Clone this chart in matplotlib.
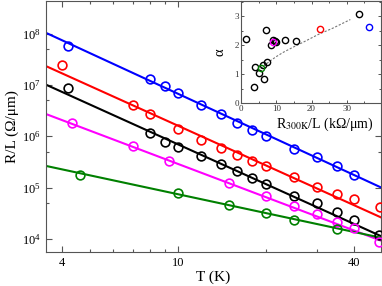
import matplotlib
matplotlib.use("Agg")
import matplotlib.pyplot as plt
from matplotlib.ticker import FixedLocator, NullFormatter, LogLocator, MultipleLocator, FixedFormatter

plt.rcParams['font.family'] = ['Liberation Serif', 'DejaVu Serif']
plt.rcParams['mathtext.fontset'] = 'stix'

# ---- main panel data ----
T_blue = [4.2, 8, 9, 10, 12, 14, 16, 18, 20, 25, 30, 35, 40]
R_blue = [5.67e7, 1.28e7, 9.48e6, 6.84e6, 4.0e6, 2.67e6, 1.81e6, 1.35e6, 1.01e6, 5.77e5, 3.96e5, 2.65e5, 1.75e5]

T_red = [4.0, 7, 8, 10, 12, 14, 16, 18, 20, 25, 30, 35, 40, 49.3]
R_red = [2.47e7, 4.05e6, 2.71e6, 1.37e6, 8.36e5, 5.93e5, 4.27e5, 3.31e5, 2.61e5, 1.58e5, 1.04e5, 7.48e4, 5.9e4, 4.13e4]

T_black = [4.2, 8, 9, 10, 12, 14, 16, 18, 20, 25, 30, 35, 40, 49]
R_black = [8.83e6, 1.15e6, 7.89e5, 6.2e5, 4.18e5, 2.86e5, 2.09e5, 1.55e5, 1.17e5, 6.94e4, 4.93e4, 3.39e4, 2.34e4, 1.18e4]

T_mag = [4.33, 7, 9.3, 15, 20, 25, 30, 35, 40, 49]
R_mag = [1.85e6, 6.4e5, 3.3e5, 1.21e5, 6.93e4, 4.37e4, 3.02e4, 2.11e4, 1.64e4, 8.87e3]

T_green = [4.6, 10, 15, 20, 25, 35]
R_green = [1.8e5, 7.93e4, 4.51e4, 3.27e4, 2.34e4, 1.54e4]

# power-law fit lines (end points)
fit_T = [3.53, 49.7]
fit_blue = [1.03e8, 1.01e5]
fit_red = [2.32e7, 2.64e4]
fit_black = [1.01e7, 1.14e4]
fit_mag = [2.71e6, 9.3e3]
fit_green = [2.65e5, 1.06e4]

# ---- inset data ----
r_black = [1.4, 7.0, 3.9, 3.7, 5.2, 6.3, 7.3, 6.4, 8.6, 9.2, 9.7, 9.9, 12.6, 15.6, 33.4]
a_black = [2.2, 2.52, 1.24, 0.56, 1.05, 1.31, 1.40, 0.82, 2.0, 2.17, 2.15, 2.1, 2.16, 2.14, 3.08]
r_green, a_green = [5.7], [1.2]
r_mag, a_mag = [9.0], [2.11]
r_red, a_red = [22.3], [2.54]
r_blue, a_blue = [36.4], [2.61]
trend_r = [4.8, 6, 7, 8, 10, 12, 15, 18, 22, 26, 31]
trend_a = [1.1, 1.23, 1.33, 1.43, 1.60, 1.75, 1.94, 2.12, 2.37, 2.58, 2.88]

spine_c = '#555555'
fig = plt.figure(figsize=(3.82, 2.86), dpi=100)
ax = fig.add_axes([0.1204, 0.1189, 0.877, 0.879])
ax.set_xscale('log')
ax.set_yscale('log')

series = [
    (T_blue, R_blue, fit_blue, '#0000ff'),
    (T_red, R_red, fit_red, '#ff0000'),
    (T_black, R_black, fit_black, '#000000'),
    (T_mag, R_mag, fit_mag, '#ff00ff'),
    (T_green, R_green, fit_green, '#008000'),
]
for T, R, fit, c in series:
    ax.plot(fit_T, fit, color=c, lw=1.5, zorder=2)
    ax.plot(T, R, 'o', mfc='none', mec=c, ms=6.3, mew=1.2, zorder=3, clip_on=True)

ax.set_xlim(3.53, 49.7)
ax.set_ylim(5.6e3, 4.37e8)
ax.xaxis.set_major_locator(FixedLocator([4, 10, 40]))
ax.xaxis.set_major_formatter(FixedFormatter(['4', '10', '40']))
ax.xaxis.set_minor_locator(FixedLocator([5, 6, 7, 8, 9, 20, 30]))
ax.xaxis.set_minor_formatter(NullFormatter())
ax.yaxis.set_major_locator(LogLocator(base=10, numticks=10))
ax.yaxis.set_minor_locator(LogLocator(base=10, subs=[5], numticks=10))
ax.yaxis.set_minor_formatter(NullFormatter())
ax.tick_params(which='both', direction='in', top=True, right=True, colors=spine_c, labelcolor='black', labelsize=9)
ax.tick_params(which='major', length=4, width=0.8)
ax.tick_params(which='minor', length=2.5, width=0.8)
for s in ax.spines.values():
    s.set_color(spine_c)
ax.set_xlabel('T (K)', fontsize=11, labelpad=1)
ax.set_ylabel('R/L (Ω/μm)', fontsize=11, labelpad=2)

# inset
ins = fig.add_axes([0.6309, 0.6399, 0.3665, 0.3566])
ins.set_facecolor('white')
ins.plot(trend_r, trend_a, ls=(0, (2, 1.5)), color='#777777', lw=0.8, zorder=2)
for r, a, c in [(r_black, a_black, 'black'), (r_green, a_green, '#008000'),
                (r_mag, a_mag, '#ff00ff'), (r_red, a_red, '#ff0000'), (r_blue, a_blue, '#0000ff')]:
    ins.plot(r, a, 'o', mfc='none', mec=c, ms=4.5, mew=1.0, zorder=3)
ins.set_xlim(0, 39.7)
ins.set_ylim(0, 3.52)
ins.xaxis.set_major_locator(MultipleLocator(10))
ins.xaxis.set_minor_locator(MultipleLocator(5))
ins.yaxis.set_major_locator(MultipleLocator(1))
ins.yaxis.set_minor_locator(MultipleLocator(0.5))
ins.tick_params(which='both', direction='in', top=True, right=True, colors=spine_c, labelcolor='#333333', labelsize=6.5, pad=1.5)
ins.tick_params(which='major', length=2.5, width=0.7)
ins.tick_params(which='minor', length=1.5, width=0.7)
for s in ins.spines.values():
    s.set_color(spine_c)
ins.set_xlabel(r'R$_{\rm 300K}$/L (kΩ/μm)', fontsize=10, labelpad=1)
ins.xaxis.set_label_coords(0.6, -0.12)
ins.set_ylabel('α', fontsize=10.5, labelpad=6)

fig.savefig('out.png', dpi=100)
